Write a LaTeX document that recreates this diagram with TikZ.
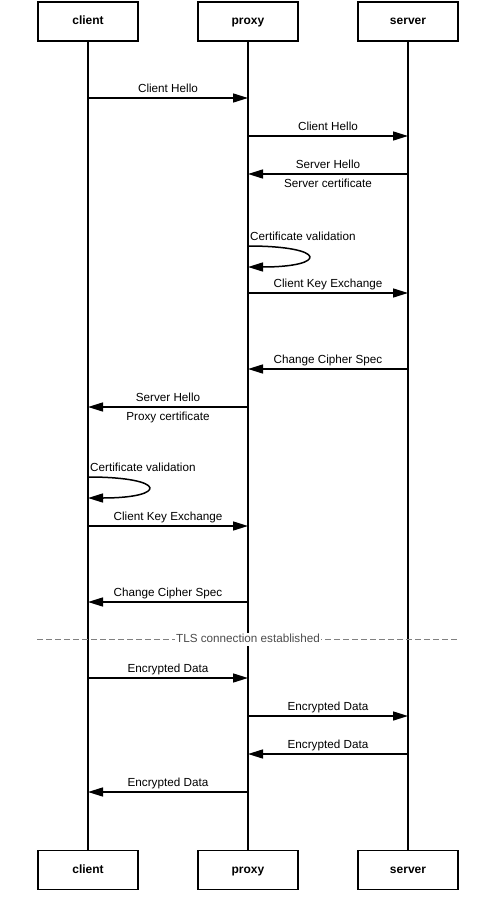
\documentclass[tikz,border=0pt]{standalone}
\usepackage{fontspec}
\setmainfont{Liberation Sans}
\usepackage{tikz}
\usetikzlibrary{arrows.meta, positioning}
\tikzstyle{actor} = [rectangle, minimum width=100pt, minimum height=39pt, text height=9pt, text depth=2.5pt, text centered, draw=black, line width=1.6pt, font=\fontsize{12}{14}\selectfont\bfseries]
\tikzstyle{lifeline} = [line width=1.6pt]
\tikzstyle{arrow} = [line width=1.5pt, -{Triangle[length=15pt,width=9pt]}]
\tikzstyle{msg} = [font=\fontsize{11.7}{14}\selectfont, text height=8.5pt, text depth=2.5pt, inner sep=1pt]
\tikzstyle{divider} = [dashed, dash pattern=on 6pt off 3pt, line width=1pt, draw=black!50]
\begin{document}
\begin{tikzpicture}[x=1pt, y=-1pt]
      \useasboundingbox (0,0) rectangle (496,917);
      \node (client) [actor] at (88,21.5) {client};
      \node (proxy) [actor] at (248,21.5) {proxy};
      \node (server) [actor] at (408,21.5) {server};
      \node (clientB) [actor] at (88,870) {client};
      \node (proxyB) [actor] at (248,870) {proxy};
      \node (serverB) [actor] at (408,870) {server};
      \draw [lifeline] (client) -- (clientB);
      \draw [lifeline] (proxy) -- (proxyB);
      \draw [lifeline] (server) -- (serverB);
      % points on the lifelines, one row per step
      \foreach \n/\y in {1/98, 2/136, 3/174, 4/246, 5/267, 6/293, 7/369, 8/407, 9/477, 10/498, 11/526, 12/602, 13/639, 14/678, 15/716, 16/754, 17/792} {
        \coordinate (c\n) at (88,\y);
        \coordinate (p\n) at (248,\y);
        \coordinate (s\n) at (408,\y);
      }
      \draw [arrow] (c1) -- node[msg, above=1.5pt] {Client Hello} (p1);
      \draw [arrow] (p2) -- node[msg, above=1.5pt] {Client Hello} (s2);
      \draw [arrow] (s3) -- node[msg, above=1.5pt] {Server Hello} node[msg, below=3pt] {Server certificate} (p3);
      \draw [arrow] (p4) .. controls +(80,0) and +(80,0) .. (p5);
      \node [msg, above right=2pt and 2pt of p4, xshift=-1pt] {Certificate validation};
      \draw [arrow] (p6) -- node[msg, above=1.5pt] {Client Key Exchange} (s6);
      \draw [arrow] (s7) -- node[msg, above=1.5pt] {Change Cipher Spec} (p7);
      \draw [arrow] (p8) -- node[msg, above=1.5pt] {Server Hello} node[msg, below=3pt] {Proxy certificate} (c8);
      \draw [arrow] (c9) .. controls +(80,0) and +(80,0) .. (c10);
      \node [msg, above right=2pt and 2pt of c9, xshift=-1pt] {Certificate validation};
      \draw [arrow] (c11) -- node[msg, above=1.5pt] {Client Key Exchange} (p11);
      \draw [arrow] (p12) -- node[msg, above=1.5pt] {Change Cipher Spec} (c12);
      \draw [divider] (client.west |- c13) -- node[msg, fill=white, text=black!70] {TLS connection established} (server.east |- c13);
      \draw [arrow] (c14) -- node[msg, above=1.5pt] {Encrypted Data} (p14);
      \draw [arrow] (p15) -- node[msg, above=1.5pt] {Encrypted Data} (s15);
      \draw [arrow] (s16) -- node[msg, above=1.5pt] {Encrypted Data} (p16);
      \draw [arrow] (p17) -- node[msg, above=1.5pt] {Encrypted Data} (c17);
\end{tikzpicture}
\end{document}
